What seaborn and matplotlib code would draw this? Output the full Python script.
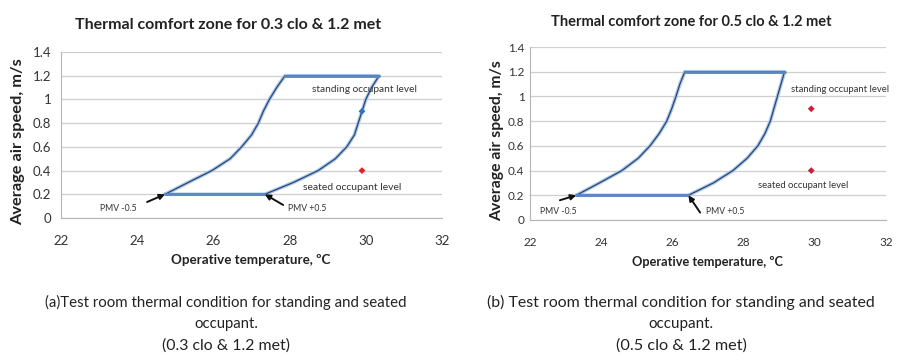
import numpy as np
import pandas as pd
import seaborn as sns
import matplotlib
matplotlib.use('Agg')
import matplotlib.pyplot as plt

# air speed levels along the comfort boundaries
speed = [0.2, 0.3, 0.4, 0.5, 0.6, 0.7, 0.8, 0.9, 1.0, 1.1, 1.2]

# (a) 0.3 clo & 1.2 met
a_cold = [24.73, 25.34, 25.96, 26.44, 26.74, 27.0, 27.18, 27.31, 27.47, 27.66, 27.88]
a_warm = [27.35, 28.1, 28.75, 29.2, 29.5, 29.7, 29.8, 29.9, 30.0, 30.15, 30.35]
a_points_t = [29.9, 29.9]
a_points_v = [0.9, 0.4]
a_points_c = ['#2e75b6', '#e0202a']

# (b) 0.5 clo & 1.2 met
b_cold = [23.3, 23.95, 24.58, 25.04, 25.37, 25.63, 25.84, 25.98, 26.1, 26.21, 26.35]
b_warm = [26.45, 27.15, 27.7, 28.1, 28.4, 28.6, 28.75, 28.85, 28.95, 29.05, 29.15]
b_points_t = [29.9, 29.9]
b_points_v = [0.9, 0.4]
b_points_c = ['#c8203a', '#c8203a']

x_ticks = [22, 24, 26, 28, 30, 32]
y_ticks = [0, 0.2, 0.4, 0.6, 0.8, 1.0, 1.2, 1.4]
y_labels = ['0', '0.2', '0.4', '0.6', '0.8', '1', '1.2', '1.4']

W, H = 906, 364

sns.set_theme(style='white')
plt.rcParams['font.family'] = ['Lato', 'DejaVu Sans']

fig = plt.figure(figsize=(W / 100, H / 100), dpi=100)
renderer = fig.canvas.get_renderer()


def fit(txt, length_px, vertical=False):
    # scale font so the text spans about the same number of pixels as in the reference
    bb = txt.get_window_extent(renderer)
    cur = bb.height if vertical else bb.width
    txt.set_fontsize(txt.get_fontsize() * length_px / cur)
    return txt


def label(x, y, s, length_px, vertical=False, **kw):
    t = fig.text(x / W, 1 - y / H, s, ha='center', va='center', color='#222222',
                 rotation=90 if vertical else 0, **kw)
    return fit(t, length_px, vertical)


def zone_frame(cold, warm):
    t = list(cold) + list(warm[::-1]) + [cold[0]]
    v = list(speed) + list(speed[::-1]) + [speed[0]]
    return pd.DataFrame({'temp': t, 'speed': v})


def draw_panel(ax, cold, warm, pts_t, pts_v, pts_c, notes, tick_size, ytick_pad):
    df = zone_frame(cold, warm)
    # light wide stroke underneath, dark thin stroke on top
    sns.lineplot(data=df, x='temp', y='speed', sort=False, ax=ax, color='#a9c6e6',
                 linewidth=2.6, estimator=None, solid_joinstyle='round')
    sns.lineplot(data=df, x='temp', y='speed', sort=False, ax=ax, color='#2a4677',
                 linewidth=0.9, estimator=None, solid_joinstyle='round')
    # horizontal edges are mostly the light blue stroke
    for i in (0, -1):
        ax.plot([cold[i], warm[i]], [speed[i], speed[i]], color='#5a87c0', linewidth=2.0)
    sns.scatterplot(x=pts_t, y=pts_v, ax=ax, color=pts_c, s=12, marker='D', edgecolor='none', zorder=5)

    ax.set_xlim(22, 32)
    ax.set_ylim(0, 1.4)
    ax.set_xticks(x_ticks)
    ax.set_yticks(y_ticks)
    ax.set_yticklabels(y_labels)
    ax.tick_params(axis='y', labelsize=tick_size, colors='#333333', length=0, pad=ytick_pad)
    ax.tick_params(axis='x', labelsize=tick_size, colors='#333333', length=3, width=0.6,
                   color='#aaaaaa', direction='out', pad=9)
    ax.yaxis.grid(True, color='#cfcfcf', linewidth=0.9)
    ax.set_axisbelow(True)
    for s in ('top', 'right'):
        ax.spines[s].set_visible(False)
    for s in ('left', 'bottom'):
        ax.spines[s].set_color('#b5b5b5')
        ax.spines[s].set_linewidth(0.8)
    ax.set_xlabel('')
    ax.set_ylabel('')

    small = dict(fontsize=6.2, color='#333333', ha='left', va='center')
    t = ax.text(*notes['standing'], 'standing occupant level', **small)
    fit(t, notes['standing_w'])
    t = ax.text(*notes['seated'], 'seated occupant level', **small)
    fit(t, notes['seated_w'])
    ax.text(*notes['pmv_m'], 'PMV -0.5', **small)
    ax.text(*notes['pmv_p'], 'PMV +0.5', **small)
    arrow = dict(arrowstyle='-|>', color='#111111', lw=1.4, mutation_scale=8, shrinkA=0, shrinkB=0)
    ax.annotate('', xy=(cold[0], speed[0]), xytext=notes['pmv_m_tail'], arrowprops=arrow)
    ax.annotate('', xy=(warm[0], speed[0]), xytext=notes['pmv_p_tail'], arrowprops=arrow)


ax1 = fig.add_axes([61 / W, 1 - 218 / H, 381 / W, 166 / H])
ax2 = fig.add_axes([530 / W, 1 - 220 / H, 356 / W, 173 / H])

draw_panel(ax1, a_cold, a_warm, a_points_t, a_points_v, a_points_c,
           dict(standing=(28.59, 1.08), standing_w=106, seated=(28.35, 0.26), seated_w=100,
                pmv_m=(23.02, 0.08), pmv_m_tail=(24.26, 0.135),
                pmv_p=(27.96, 0.08), pmv_p_tail=(27.83, 0.11)),
           tick_size=9.5, ytick_pad=7)
draw_panel(ax2, b_cold, b_warm, b_points_t, b_points_v, b_points_c,
           dict(standing=(29.33, 1.06), standing_w=99, seated=(28.4, 0.28), seated_w=92,
                pmv_m=(22.28, 0.07), pmv_m_tail=(22.84, 0.16),
                pmv_p=(26.95, 0.07), pmv_p_tail=(26.78, 0.06)),
           tick_size=8.5, ytick_pad=4)

label(228, 25, 'Thermal comfort zone for 0.3 clo & 1.2 met', 305, fontweight='bold')
label(691, 22, 'Thermal comfort zone for 0.5 clo & 1.2 met', 280, fontweight='bold')

label(18, 142, 'Average air speed, m/s', 166, vertical=True, fontweight='bold')
label(497, 141, 'Average air speed, m/s', 160, vertical=True, fontweight='bold')

label(251, 260, 'Operative temperature, ºC', 158, fontweight='bold')
label(708, 262, 'Operative temperature, ºC', 150, fontweight='bold')

label(226, 302, '(a)Test room thermal condition for standing and seated', 360)
label(226, 324, 'occupant.', 64)
label(226, 346, '(0.3 clo & 1.2 met)', 128)
label(681, 302, '(b) Test room thermal condition for standing and seated', 385)
label(681, 324, 'occupant.', 65)
label(681, 346, '(0.5 clo & 1.2 met)', 130)

fig.savefig('out.png', dpi=100)
